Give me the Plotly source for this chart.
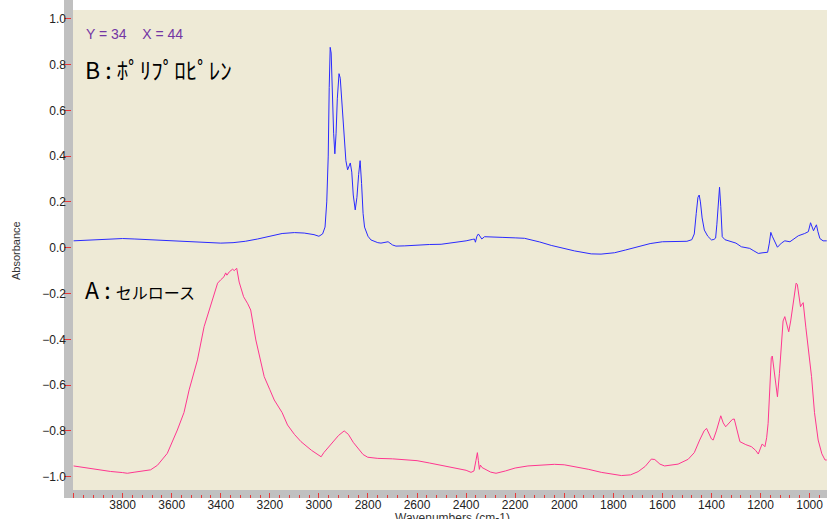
import plotly.graph_objects as go

# ---- data ----
wn_b = [4000, 3950, 3900, 3850, 3800, 3750, 3700, 3650, 3600, 3550, 3500, 3450, 3400, 3350,
        3300, 3250, 3200, 3150, 3100, 3060, 3020, 3000, 2985, 2975, 2968, 2962, 2958, 2954,
        2950, 2946, 2940, 2935, 2930, 2925, 2918, 2913, 2908, 2902, 2897, 2890, 2883, 2876,
        2872, 2866, 2860, 2852, 2845, 2838, 2832, 2826, 2820, 2814, 2800, 2788, 2760, 2747,
        2730, 2718, 2700, 2686, 2650, 2600, 2550, 2502, 2450, 2400, 2375, 2366, 2362, 2356,
        2350, 2343, 2336, 2325, 2300, 2250, 2200, 2162, 2100, 2053, 1958, 1890, 1850, 1795,
        1750, 1686, 1650, 1600, 1550, 1500, 1480, 1470, 1462, 1455, 1450, 1445, 1438, 1429,
        1415, 1400, 1390, 1383, 1378, 1372, 1367, 1362, 1356, 1345, 1332, 1300, 1278, 1260,
        1244, 1230, 1209, 1190, 1171, 1164, 1158, 1152, 1140, 1131, 1115, 1101, 1080, 1060,
        1046, 1020, 1005, 996, 990, 984, 977, 972, 966, 958, 945, 930]
abs_b = [0.030, 0.033, 0.036, 0.040, 0.040, 0.038, 0.035, 0.032, 0.030, 0.027, 0.024, 0.021,
         0.020, 0.022, 0.028, 0.038, 0.050, 0.062, 0.066, 0.064, 0.057, 0.050, 0.060, 0.090,
         0.200, 0.400, 0.700, 0.875, 0.850, 0.700, 0.500, 0.410, 0.500, 0.650, 0.760, 0.740,
         0.650, 0.550, 0.470, 0.380, 0.340, 0.360, 0.370, 0.330, 0.230, 0.165, 0.220, 0.320,
         0.380, 0.280, 0.150, 0.090, 0.050, 0.034, 0.022, 0.020, 0.022, 0.026, 0.012, 0.007,
         0.008, 0.012, 0.014, 0.015, 0.022, 0.030, 0.036, 0.038, 0.024, 0.050, 0.060, 0.050,
         0.038, 0.048, 0.046, 0.045, 0.043, 0.041, 0.025, 0.010, -0.014, -0.027, -0.028,
         -0.022, -0.010, 0.007, 0.018, 0.026, 0.027, 0.028, 0.035, 0.060, 0.150, 0.220, 0.230,
         0.200, 0.130, 0.077, 0.050, 0.034, 0.036, 0.042, 0.100, 0.220, 0.264, 0.180, 0.048,
         0.035, 0.030, 0.020, 0.004, 0.000, -0.003, -0.012, -0.025, -0.022, -0.020, 0.020,
         0.067, 0.050, 0.020, 0.002, 0.020, 0.030, 0.026, 0.040, 0.052, 0.062, 0.070, 0.109,
         0.090, 0.074, 0.090, 0.100, 0.070, 0.040, 0.030, 0.030]

wn_a = [4000, 3950, 3900, 3850, 3800, 3781, 3750, 3720, 3686, 3658, 3618, 3577, 3550, 3529,
        3495, 3468, 3448, 3430, 3413, 3400, 3387, 3380, 3375, 3365, 3352, 3345, 3335, 3325,
        3315, 3307, 3290, 3278, 3257, 3240, 3223, 3200, 3182, 3150, 3128, 3100, 3073, 3030,
        2991, 2980, 2971, 2950, 2920, 2897, 2880, 2860, 2842, 2820, 2801, 2760, 2700, 2650,
        2600, 2550, 2500, 2450, 2400, 2380, 2368, 2360, 2354, 2350, 2346, 2342, 2335, 2300,
        2278, 2240, 2200, 2148, 2100, 2040, 2000, 1958, 1900, 1849, 1800, 1767, 1730, 1699,
        1670, 1645, 1631, 1610, 1591, 1560, 1536, 1495, 1470, 1448, 1430, 1420, 1410, 1400,
        1393, 1380, 1362, 1352, 1342, 1325, 1315, 1307, 1296, 1284, 1260, 1237, 1220, 1209,
        1200, 1193, 1182, 1175, 1169, 1162, 1156, 1152, 1145, 1136, 1131, 1123, 1115, 1108,
        1101, 1093, 1085, 1077, 1070, 1062, 1055, 1050, 1043, 1037, 1030, 1026, 1015, 1000,
        992, 980, 965, 950, 937, 930]
abs_a = [-0.953, -0.962, -0.970, -0.977, -0.982, -0.985, -0.980, -0.975, -0.970, -0.950,
         -0.898, -0.796, -0.720, -0.621, -0.490, -0.345, -0.272, -0.210, -0.155, -0.140,
         -0.127, -0.110, -0.120, -0.105, -0.094, -0.100, -0.090, -0.150, -0.190, -0.214,
         -0.245, -0.272, -0.403, -0.480, -0.563, -0.620, -0.665, -0.720, -0.774, -0.815,
         -0.847, -0.885, -0.913, -0.895, -0.883, -0.855, -0.820, -0.800, -0.815, -0.850,
         -0.876, -0.903, -0.915, -0.920, -0.922, -0.925, -0.930, -0.940, -0.950, -0.960,
         -0.972, -0.981, -0.975, -0.930, -0.895, -0.930, -0.968, -0.949, -0.960, -0.980,
         -0.985, -0.975, -0.962, -0.953, -0.950, -0.946, -0.948, -0.956, -0.968, -0.981,
         -0.990, -0.995, -0.992, -0.978, -0.955, -0.923, -0.925, -0.945, -0.953, -0.950,
         -0.945, -0.924, -0.895, -0.840, -0.800, -0.789, -0.810, -0.835, -0.840, -0.800,
         -0.734, -0.765, -0.782, -0.760, -0.750, -0.748, -0.800, -0.847, -0.860, -0.869,
         -0.885, -0.901, -0.875, -0.857, -0.869, -0.830, -0.767, -0.600, -0.480, -0.473,
         -0.540, -0.630, -0.651, -0.550, -0.400, -0.320, -0.301, -0.330, -0.367, -0.320,
         -0.272, -0.200, -0.155, -0.160, -0.220, -0.258, -0.245, -0.240, -0.350, -0.480,
         -0.563, -0.720, -0.840, -0.900, -0.927, -0.927]

x_tick_vals = [4000, 3800, 3600, 3400, 3200, 3000, 2800, 2600, 2400, 2200, 2000, 1800,
               1600, 1400, 1200, 1000]
x_tick_text = ["", "3800", "3600", "3400", "3200", "3000", "2800", "2600", "2400", "2200",
               "2000", "1800", "1600", "1400", "1200", "1000"]
y_tick_vals = [1.0, 0.8, 0.6, 0.4, 0.2, 0.0, -0.2, -0.4, -0.6, -0.8, -1.0]

label_b = "B : ﾎﾟﾘﾌﾟﾛﾋﾟﾚﾝ"
label_a_head = "A : "
label_a_body = "セルロース"
cursor_text = "Y = 34\u00a0\u00a0\u00a0 X = 44"

# ---- figure ----
W, H = 827, 519
PL, PR, PT, PB = 64, 827, 10, 498          # plot area in pixels
ML, MR, MT, MB = PL, W - PR, PT, H - PB
PW, PH = PR - PL, PB - PT


def px(x):
    return (x - PL) / PW


def py(y):
    return (PB - y) / PH


fig = go.Figure()
fig.add_trace(go.Scatter(x=wn_b, y=abs_b, mode="lines",
                         line=dict(color="#2a2aff", width=1), name="B"))
fig.add_trace(go.Scatter(x=wn_a, y=abs_a, mode="lines",
                         line=dict(color="#ff3690", width=1), name="A"))

tickfont = dict(family="Liberation Sans, Arial, sans-serif", size=12, color="#222222")
red = "#e83838"

fig.update_layout(
    width=W, height=H,
    margin=dict(l=ML, r=MR, t=MT, b=MB, pad=0, autoexpand=False),
    paper_bgcolor="white",
    plot_bgcolor="#eeead6",
    showlegend=False,
    xaxis=dict(range=[4039, 929], showgrid=False, zeroline=False, showline=False,
               tickmode="array", tickvals=x_tick_vals, ticktext=x_tick_text,
               ticks="inside", ticklen=5, tickwidth=1, tickcolor=red,
               tickfont=tickfont, automargin=False, ticklabelstandoff=-2,
               minor=dict(tickmode="linear", tick0=0, dtick=40, ticks="inside",
                          ticklen=3, tickwidth=1, tickcolor=red, showgrid=False)),
    yaxis=dict(range=[-1.093, 1.038], showgrid=False, zeroline=False, showline=False,
               tickmode="array", tickvals=y_tick_vals, tickformat=".1f",
               ticks="inside", ticklen=7, tickwidth=1, tickcolor=red,
               tickfont=tickfont, automargin=False, ticklabelstandoff=-3),
)

# gray frame strips (left and bottom)
fig.add_shape(type="rect", xref="paper", yref="paper", x0=0, x1=px(73), y0=0, y1=py(0),
              fillcolor="#c0c0c0", line=dict(width=0), layer="below")
fig.add_shape(type="rect", xref="paper", yref="paper", x0=0, x1=1, y0=0, y1=py(490),
              fillcolor="#c0c0c0", line=dict(width=0), layer="below")

fig.add_annotation(xref="paper", yref="paper", x=px(84), y=py(34), xanchor="left",
                   yanchor="middle", showarrow=False, text=cursor_text,
                   font=dict(family="Liberation Sans, Arial, sans-serif", size=14,
                             color="#7436a4"))
fig.add_annotation(xref="paper", yref="paper", x=px(83), y=py(69), xanchor="left",
                   yanchor="middle", showarrow=False, text=label_b,
                   font=dict(family="Noto Sans CJK JP", size=23, color="#000000"))
fig.add_annotation(xref="paper", yref="paper", x=px(83), y=py(289), xanchor="left",
                   yanchor="middle", showarrow=False,
                   text=label_a_head + '<span style="font-size:16px">' + label_a_body + "</span>",
                   font=dict(family="Noto Sans CJK JP", size=23, color="#000000"))
fig.add_annotation(xref="paper", yref="paper", x=px(16), y=py(251), xanchor="center",
                   yanchor="middle", showarrow=False, text="Absorbance", textangle=-90,
                   font=dict(family="Liberation Sans, Arial, sans-serif", size=11,
                             color="#333333"))
fig.add_annotation(xref="paper", yref="paper", x=px(452), y=py(518), xanchor="center",
                   yanchor="middle", showarrow=False, text="Wavenumbers (cm-1)",
                   font=dict(family="Liberation Sans, Arial, sans-serif", size=12,
                             color="#333333"))

# remove the default 8px page margin so the 827x519 figure fills the window exactly
fig.write_html("out.html",
               config={"displayModeBar": False},
               post_script="document.body.style.margin='0';"
                           "document.body.style.overflow='hidden';")
